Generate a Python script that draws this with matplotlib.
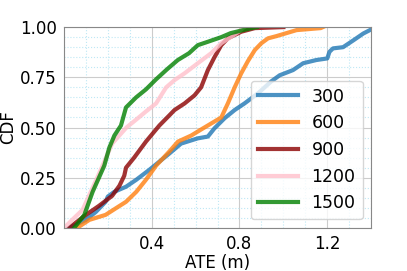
import matplotlib
matplotlib.use("Agg")
import matplotlib.pyplot as plt
from matplotlib.ticker import MultipleLocator

# values (ATE in m, cumulative fraction)
labels = ['300', '600', '900', '1200', '1500']

ate_300 = [0.024, 0.10, 0.146, 0.19, 0.20, 0.23, 0.283, 0.33, 0.39, 0.435, 0.48,
           0.534, 0.61, 0.656, 0.686, 0.732, 0.778, 0.823, 0.884, 0.945, 0.983,
           1.044, 1.09, 1.15, 1.20, 1.21, 1.226, 1.272, 1.32, 1.364, 1.394, 1.42]
cdf_300 = [0.0, 0.04, 0.08, 0.13, 0.156, 0.18, 0.205, 0.24, 0.29, 0.33, 0.37,
           0.42, 0.446, 0.455, 0.496, 0.546, 0.587, 0.62, 0.67, 0.73, 0.76,
           0.786, 0.82, 0.836, 0.844, 0.877, 0.894, 0.90, 0.935, 0.968, 0.985, 1.0]

ate_600 = [0.06, 0.116, 0.19, 0.237, 0.283, 0.33, 0.374, 0.42, 0.48, 0.52, 0.58,
           0.625, 0.671, 0.717, 0.747, 0.778, 0.808, 0.838, 0.87, 0.90, 0.93,
           0.968, 1.06, 1.17, 1.18]
cdf_600 = [0.0, 0.04, 0.065, 0.098, 0.13, 0.18, 0.24, 0.31, 0.38, 0.43, 0.46,
           0.49, 0.52, 0.55, 0.62, 0.70, 0.77, 0.83, 0.886, 0.92, 0.944,
           0.955, 0.985, 0.995, 1.0]

ate_900 = [0.024, 0.10, 0.16, 0.22, 0.253, 0.275, 0.283, 0.32, 0.374, 0.435, 0.48,
           0.504, 0.55, 0.595, 0.625, 0.656, 0.686, 0.717, 0.747, 0.808, 0.87, 1.0]
cdf_900 = [0.0, 0.065, 0.11, 0.16, 0.21, 0.26, 0.30, 0.35, 0.43, 0.51, 0.56,
           0.587, 0.62, 0.66, 0.70, 0.786, 0.85, 0.91, 0.944, 0.977, 0.995, 1.0]

ate_1200 = [0.0, 0.01, 0.047, 0.085, 0.16, 0.22, 0.285, 0.33, 0.374, 0.42, 0.466,
            0.504, 0.55, 0.61, 0.671, 0.717, 0.76, 0.80, 0.82]
cdf_1200 = [0.0, 0.01, 0.05, 0.09, 0.27, 0.42, 0.50, 0.54, 0.58, 0.62, 0.70,
            0.736, 0.77, 0.82, 0.87, 0.92, 0.95, 0.98, 1.0]

ate_1500 = [0.047, 0.093, 0.131, 0.184, 0.207, 0.23, 0.26, 0.283, 0.329, 0.374,
            0.42, 0.47, 0.519, 0.57, 0.61, 0.656, 0.717, 0.76, 0.854, 0.88]
cdf_1500 = [0.0, 0.065, 0.18, 0.31, 0.40, 0.46, 0.51, 0.60, 0.65, 0.69,
            0.74, 0.79, 0.836, 0.87, 0.91, 0.927, 0.95, 0.97, 0.995, 1.0]

series = [(ate_300, cdf_300), (ate_600, cdf_600), (ate_900, cdf_900),
          (ate_1200, cdf_1200), (ate_1500, cdf_1500)]
colors = ['tab:blue', 'tab:orange', 'darkred', 'pink', 'green']

fig = plt.figure(figsize=(4.07, 2.71), dpi=100)
ax = fig.add_axes([0.157, 0.159, 0.755, 0.741])

for (x, y), c, lab in zip(series, colors, labels):
    ax.plot(x, y, color=c, alpha=0.8, linewidth=3, label=lab)

ax.set_xlim(0, 1.4)
ax.set_ylim(0, 1.0)
ax.set_xticks([0.4, 0.8, 1.2])
ax.set_yticks([0.0, 0.25, 0.5, 0.75, 1.0])
ax.xaxis.set_minor_locator(MultipleLocator(0.1))
ax.yaxis.set_minor_locator(MultipleLocator(0.05))
ax.grid(which='major', color='#cccccc', linewidth=0.8)
ax.grid(which='minor', color='#bfe8f5', linestyle=':', linewidth=0.8)
ax.set_axisbelow(True)
ax.tick_params(which='both', length=0, labelsize=12, pad=5)
for s in ax.spines.values():
    s.set_color('#888888')

ax.set_xlabel('ATE (m)', fontsize=12, labelpad=1)
ax.set_ylabel('CDF', fontsize=12, labelpad=2)
ax.legend(loc='lower right', fontsize=12.5, handlelength=2.3, framealpha=0.8)

fig.savefig('out.png', dpi=100)
